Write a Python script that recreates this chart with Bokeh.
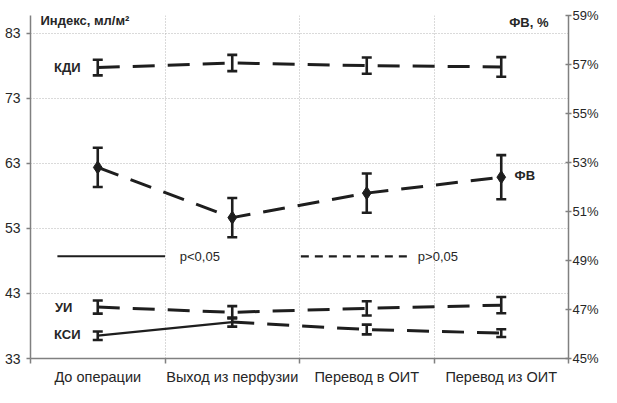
from bokeh.plotting import figure
from bokeh.models import (Range1d, LinearAxis, FixedTicker, Whisker, TeeHead,
                          ColumnDataSource, Label, PrintfTickFormatter)
from bokeh.embed import file_html
from bokeh.resources import INLINE

# ---------------- data ----------------
categories = ["До операции", "Выход из перфузии", "Перевод в ОИТ", "Перевод из ОИТ"]

kdi = [77.7, 78.4, 78.0, 77.8]          # КДИ, мл/м2 (left axis)
kdi_err = [1.2, 1.25, 1.25, 1.5]
fv = [52.8, 50.75, 51.75, 52.4]         # ФВ, % (right axis)
fv_err = [0.8, 0.8, 0.8, 0.9]
ui = [40.9, 40.1, 40.7, 41.2]           # УИ, мл/м2
ui_err = [1.0, 0.95, 1.1, 1.25]
ksi = [36.5, 38.6, 37.45, 36.9]         # КСИ, мл/м2
ksi_err = [0.65, 0.7, 0.75, 0.6]

# per-segment significance (True -> p<0,05 solid line)
kdi_sig = [False, False, False]
fv_sig = [False, False, False]
ui_sig = [False, False, False]
ksi_sig = [True, False, False]

left_ticks = [33, 43, 53, 63, 73, 83]
right_ticks = [45, 47, 49, 51, 53, 55, 57, 59]

# ---------------- styling ----------------
FONT = "Liberation Sans"
INK = "#1e1e1e"
TXT = "#262626"
AXC = "#808080"
GRID = "#b4b4b4"
DASH = "22 13"

x = list(range(1, len(categories) + 1))

p = figure(width=601, height=387, output_backend="svg", toolbar_location=None,
           x_range=Range1d(0.5, len(categories) + 0.5), y_range=Range1d(33, 85.7),
           min_border_left=30, min_border_right=20, min_border_top=15, min_border_bottom=10)
p.outline_line_color = None
p.background_fill_color = "white"
p.extra_y_ranges = {"fv": Range1d(45, 59)}

# bottom axis
xa = p.xaxis[0]
xa.ticker = FixedTicker(ticks=x, minor_ticks=[v - 0.5 for v in x] + [x[-1] + 0.5])
xa.major_label_overrides = {v: c for v, c in zip(x, categories)}
xa.major_tick_line_color = None
xa.major_tick_in = 0
xa.major_tick_out = 0
xa.minor_tick_in = 0
xa.minor_tick_out = 5
xa.minor_tick_line_color = AXC
xa.minor_tick_line_width = 1.5
xa.axis_line_color = AXC
xa.axis_line_width = 1.5
xa.major_label_text_font = FONT
xa.major_label_text_font_size = "14.5px"
xa.major_label_text_color = TXT
xa.major_label_standoff = 5

# left axis
ya = p.yaxis[0]
ya.ticker = FixedTicker(ticks=left_ticks)
ya.minor_tick_line_color = None
ya.major_tick_in = 0
ya.major_tick_out = 4
ya.major_tick_line_color = AXC
ya.major_tick_line_width = 1.5
ya.axis_line_color = AXC
ya.axis_line_width = 1.5
ya.major_label_text_font = FONT
ya.major_label_text_font_size = "14px"
ya.major_label_text_color = TXT
ya.major_label_standoff = 6

# right axis
ra = LinearAxis(y_range_name="fv", ticker=FixedTicker(ticks=right_ticks),
                formatter=PrintfTickFormatter(format="%d%%"))
ra.minor_tick_line_color = None
ra.major_tick_in = 3
ra.major_tick_out = 3
ra.major_tick_line_color = AXC
ra.major_tick_line_width = 1.5
ra.axis_line_color = AXC
ra.axis_line_width = 1.5
ra.major_label_text_font = FONT
ra.major_label_text_font_size = "13px"
ra.major_label_text_color = TXT
ra.major_label_standoff = 1
p.add_layout(ra, "right")

# grids
p.xgrid.ticker = FixedTicker(ticks=[v + 0.5 for v in x[:-1]])
p.ygrid.ticker = FixedTicker(ticks=left_ticks[1:])
for g in (p.xgrid[0], p.ygrid[0]):
    g.grid_line_color = GRID
    g.grid_line_dash = "1 2"
    g.grid_line_width = 1


def draw_series(vals, errs, sig, range_name="default", marker=None):
    # lines, split into runs of same significance
    start = 0
    for i in range(1, len(sig) + 1):
        if i == len(sig) or sig[i] != sig[start]:
            xs = x[start:i + 1]
            ys = vals[start:i + 1]
            if sig[start]:
                p.line(xs, ys, line_color=INK, line_width=2.3, y_range_name=range_name)
            else:
                p.line(xs, ys, line_color=INK, line_width=3, line_dash=DASH,
                       y_range_name=range_name)
            start = i
    src = ColumnDataSource(dict(x=x, y=vals,
                                upper=[v + e for v, e in zip(vals, errs)],
                                lower=[v - e for v, e in zip(vals, errs)]))
    w = Whisker(source=src, base="x", upper="upper", lower="lower", dimension="height",
                line_color=INK, line_width=2.6, y_range_name=range_name, level="glyph",
                upper_head=TeeHead(size=10, line_width=2.6, line_color=INK),
                lower_head=TeeHead(size=10, line_width=2.6, line_color=INK))
    p.add_layout(w)
    if marker:
        p.scatter("x", "y", source=src, marker=marker, size=13, fill_color=INK,
                  line_color=INK, y_range_name=range_name)


draw_series(kdi, kdi_err, kdi_sig)
draw_series(ui, ui_err, ui_sig)
draw_series(ksi, ksi_err, ksi_sig)
draw_series(fv, fv_err, fv_sig, range_name="fv", marker="diamond")

# legend (drawn inline like the original)
leg_y = 48.7
p.line([0.70, 1.50], [leg_y, leg_y], line_color=INK, line_width=2)
p.line([2.51, 3.30], [leg_y, leg_y], line_color=INK, line_width=2.2, line_dash="8 6")


def lab(xv, yv, text, bold=False, align="left", rn="default"):
    p.add_layout(Label(x=xv, y=yv, text=text, y_range_name=rn,
                       text_font=FONT, text_font_size="13px",
                       text_font_style="bold" if bold else "normal",
                       text_color=TXT, text_align=align, text_baseline="middle"))


lab(1.61, leg_y, "p<0,05")
lab(3.38, leg_y, "p>0,05")
lab(0.574, 84.95, "Индекс, мл/м²", bold=True)
lab(4.351, 84.65, "ФВ, %", bold=True, align="right")
lab(0.872, 77.66, "КДИ", bold=True, align="right")
lab(0.812, 40.86, "УИ", bold=True, align="right")
lab(0.872, 36.7, "КСИ", bold=True, align="right")
lab(4.099, 52.48, "ФВ", bold=True, rn="fv")

open("out.html", "w").write(file_html(p, INLINE))
